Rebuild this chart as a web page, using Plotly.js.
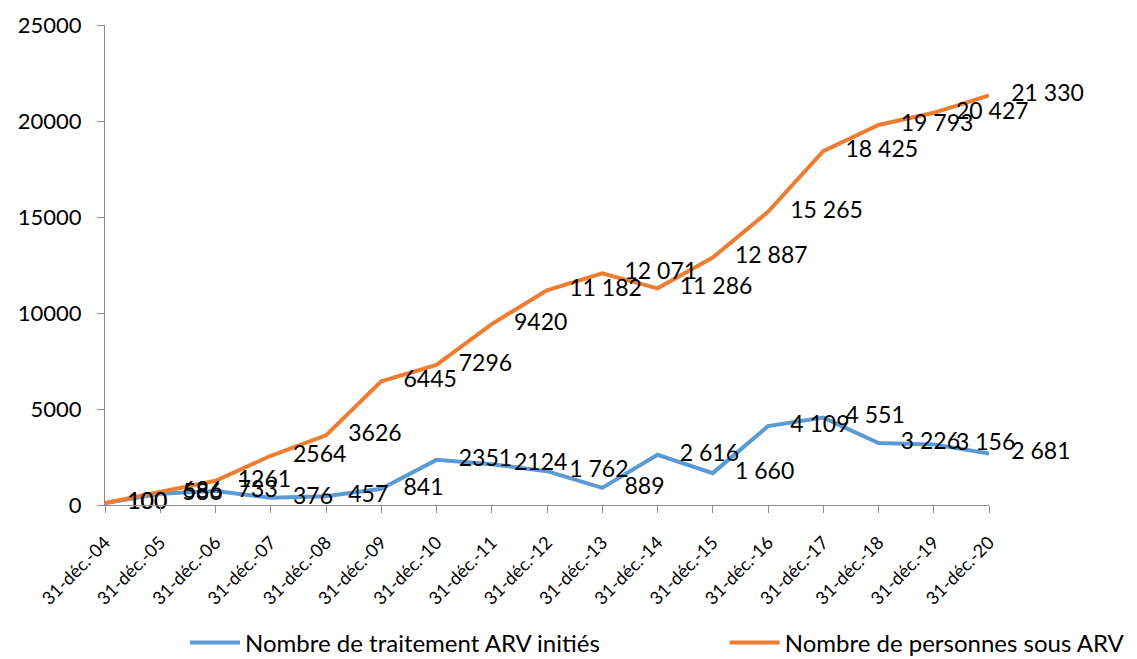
<!DOCTYPE html>
<html>
<head>
<meta charset="utf-8">
<script src="https://cdn.plot.ly/plotly-3.0.1.min.js"></script>
<style>html,body{margin:0;padding:0;background:#fff;}#chart{width:1137px;height:659px;}</style>
</head>
<body>
<div id="chart"></div>
<script>
var categories = ["31-déc.-04","31-déc.-05","31-déc.-06","31-déc.-07","31-déc.-08","31-déc.-09","31-déc.-10","31-déc.-11","31-déc.-12","31-déc.-13","31-déc.-14","31-déc.-15","31-déc.-16","31-déc.-17","31-déc.-18","31-déc.-19","31-déc.-20"];
var initiesValues = [100, 586, 733, 376, 457, 841, 2351, 2124, 1762, 889, 2616, 1660, 4109, 4551, 3226, 3156, 2681];
var initiesLabels = ["100","586","733","376","457","841","2351","2124","1 762","889","2 616","1 660","4 109","4 551","3 226","3 156","2 681"];
var personnesValues = [100, 686, 1261, 2564, 3626, 6445, 7296, 9420, 11182, 12071, 11286, 12887, 15265, 18425, 19793, 20427, 21330];
var personnesLabels = ["100","686","1261","2564","3626","6445","7296","9420","11 182","12 071","11 286","12 887","15 265","18 425","19 793","20 427","21 330"];
var yTicks = [0, 5000, 10000, 15000, 20000, 25000];

var FONT = "Lato, 'Open Sans', sans-serif";
var BLUE = "#5B9BD5", ORANGE = "#ED7D31";

function lineTrace(y, name, color, legendId) {
  return {
    x: categories, y: y, name: name, legend: legendId,
    type: "scatter", mode: "lines",
    line: {color: color, width: 4},
    hoverinfo: "skip"
  };
}
function labelTrace(y, labels) {
  return {
    x: categories, y: y, text: labels, showlegend: false,
    type: "scatter", mode: "markers+text",
    marker: {size: 34, opacity: 0, color: "#fff"},
    textposition: "middle right",
    textfont: {family: FONT, size: 23, color: "#000"},
    cliponaxis: false, hoverinfo: "skip"
  };
}

var traces = [
  lineTrace(initiesValues, "Nombre de traitement ARV initiés", BLUE, "legend"),
  lineTrace(personnesValues, "Nombre de personnes sous ARV", ORANGE, "legend2"),
  labelTrace(initiesValues, initiesLabels),
  labelTrace(personnesValues, personnesLabels)
];

var legendBase = {
  orientation: "h", yanchor: "middle", y: -0.2875, xanchor: "left",
  font: {family: FONT, size: 24, color: "#000"},
  bgcolor: "rgba(0,0,0,0)", itemwidth: 50
};

var layout = {
  width: 1137, height: 659,
  margin: {l: 105, r: 148, t: 25, b: 154, autoexpand: false},
  paper_bgcolor: "#fff", plot_bgcolor: "#fff",
  font: {family: FONT, size: 22, color: "#000"},
  showlegend: true,
  legend: Object.assign({}, legendBase, {x: 0.0905}),
  legend2: Object.assign({}, legendBase, {x: 0.701}),
  xaxis: {
    type: "category", range: [0, categories.length - 1],
    showgrid: false, zeroline: false,
    showline: true, linecolor: "#8c8c8c", linewidth: 1,
    ticks: "outside", ticklen: 7, tickcolor: "#8c8c8c",
    tickangle: -45, ticklabelstandoff: 12,
    tickfont: {family: FONT, size: 18, color: "#000"},
    fixedrange: true
  },
  yaxis: {
    range: [0, 25000], tickvals: yTicks, ticktext: yTicks.map(String),
    showgrid: false, zeroline: false,
    showline: true, linecolor: "#8c8c8c", linewidth: 1,
    ticks: "outside", ticklen: 7, tickcolor: "#8c8c8c",
    ticklabelstandoff: 11,
    tickfont: {family: FONT, size: 22, color: "#000"},
    fixedrange: true
  }
};

Plotly.newPlot("chart", traces, layout, {displayModeBar: false, staticPlot: true});
</script>
</body>
</html>
